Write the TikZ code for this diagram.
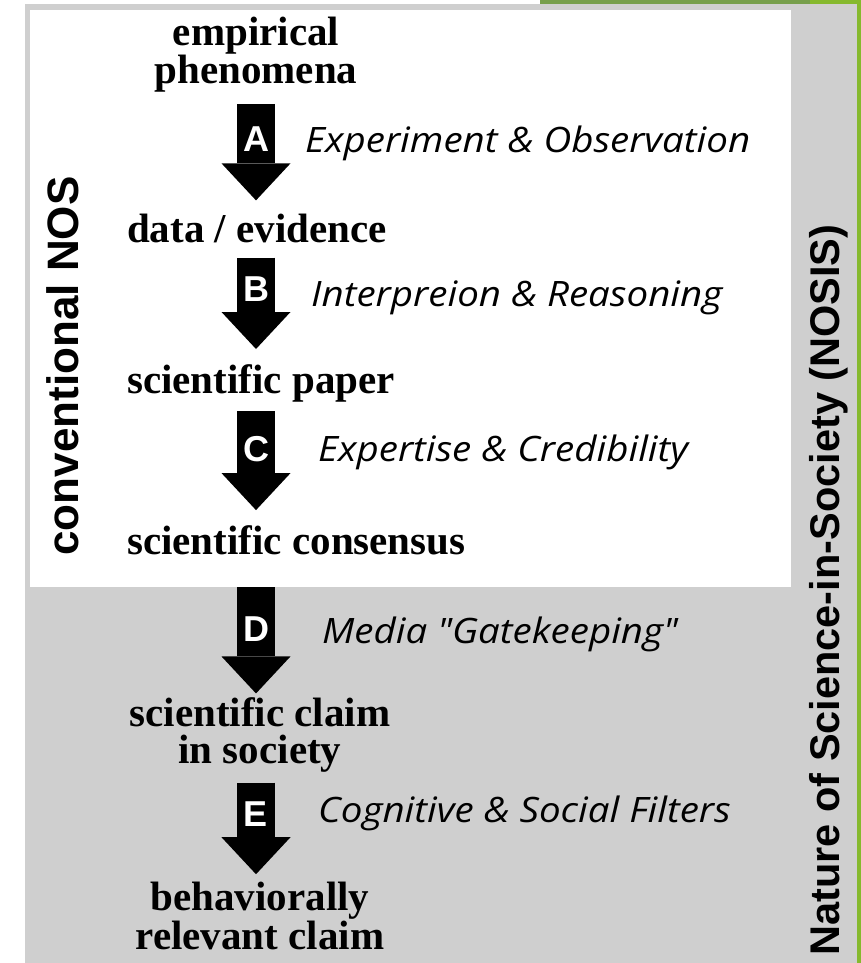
\documentclass[tikz,border=0pt]{standalone}
\usepackage{fontspec}
\setmainfont{Liberation Serif}
\setsansfont{Liberation Sans}
\newfontfamily\stepfont{Open Sans}
\usetikzlibrary{arrows.meta}
\usepackage{xcolor}
\definecolor{panelgray}{HTML}{CFCFCF}
\definecolor{mossgreen}{HTML}{779F4C}
\definecolor{leafgreen}{HTML}{86B92E}

\begin{document}
\begin{tikzpicture}[x=1pt,y=-1pt,
    stage/.style={font=\rmfamily\bfseries\fontsize{41}{37}\selectfont,
                  inner sep=0pt,align=center},
    flow/.style={line width=38pt,
                 -{Triangle[width=69pt,length=37pt,line width=0pt]}},
    tag/.style={font=\sffamily\bfseries\fontsize{36}{36}\selectfont,
                text=white,inner sep=0pt},
    how/.style={font=\stepfont\itshape\fontsize{35}{38}\selectfont,
                anchor=west,inner sep=0pt,xscale=1.1},
    side/.style={font=\sffamily\bfseries\fontsize{44}{44}\selectfont,
                 rotate=90,inner sep=0pt}]
  \useasboundingbox (0,0) rectangle (861,963);
  % panels
  \node[fill=panelgray,minimum width=832pt,minimum height=959pt,
        inner sep=0pt,anchor=north west] (nosis) at (25,4) {};
  \node[fill=white,minimum width=761pt,minimum height=577pt,
        inner sep=0pt,anchor=north west] (nos) at (30,10) {};
  \fill[mossgreen] (540,0) rectangle (810,4);
  \fill[leafgreen] (810,0) rectangle (861,4);
  \fill[leafgreen] (857,0) rectangle (861,963);
  \coordinate (axis) at (256,0);

  % stages
  \node[stage] (phen) at (256,55) {empirical\\phenomena};
  \node[stage,anchor=west] (data) at (127,228) {data / evidence};
  \node[stage,anchor=west] (paper) at (127,383) {scientific paper};
  \node[stage,anchor=west] (cons) at (127,540) {scientific consensus};
  \node[stage] (claim) at (260,735) {scientific claim\\in society};
  \node[stage] (behav) at (260,916) {behaviorally\\relevant claim};

  \foreach \a/\b/\ltr/\s/\e in {phen.south/data.north/A/11/13,
                                data.south/paper.north/B/15/15,
                                paper.south/cons.north/C/9/15,
                                nos.south/claim.north/D/0/4,
                                claim.south/behav.north/E/10/8}
    \draw[flow,shorten <=\s pt,shorten >=\e pt]
      (axis |- \a) -- node[tag,pos=0.38] {\ltr} (axis |- \b);

  \foreach \n/\x/\y/\txt in {howA/305/143/{Experiment \& Observation},
                             howB/311/298/{Interpreion \& Reasoning},
                             howC/318/452/{Expertise \& Credibility},
                             howD/322/634/{Media "Gatekeeping"},
                             howE/318/813/{Cognitive \& Social Filters}}
    \node[how] (\n) at (\x,\y) {\txt};

  \node[side] (convlbl) at (63,366) {conventional NOS};
  \node[side,font=\sffamily\bfseries\fontsize{41.5}{42}\selectfont]
    (nosislbl) at (829,590) {Nature of Science-in-Society (NOSIS)};
\end{tikzpicture}
\end{document}
